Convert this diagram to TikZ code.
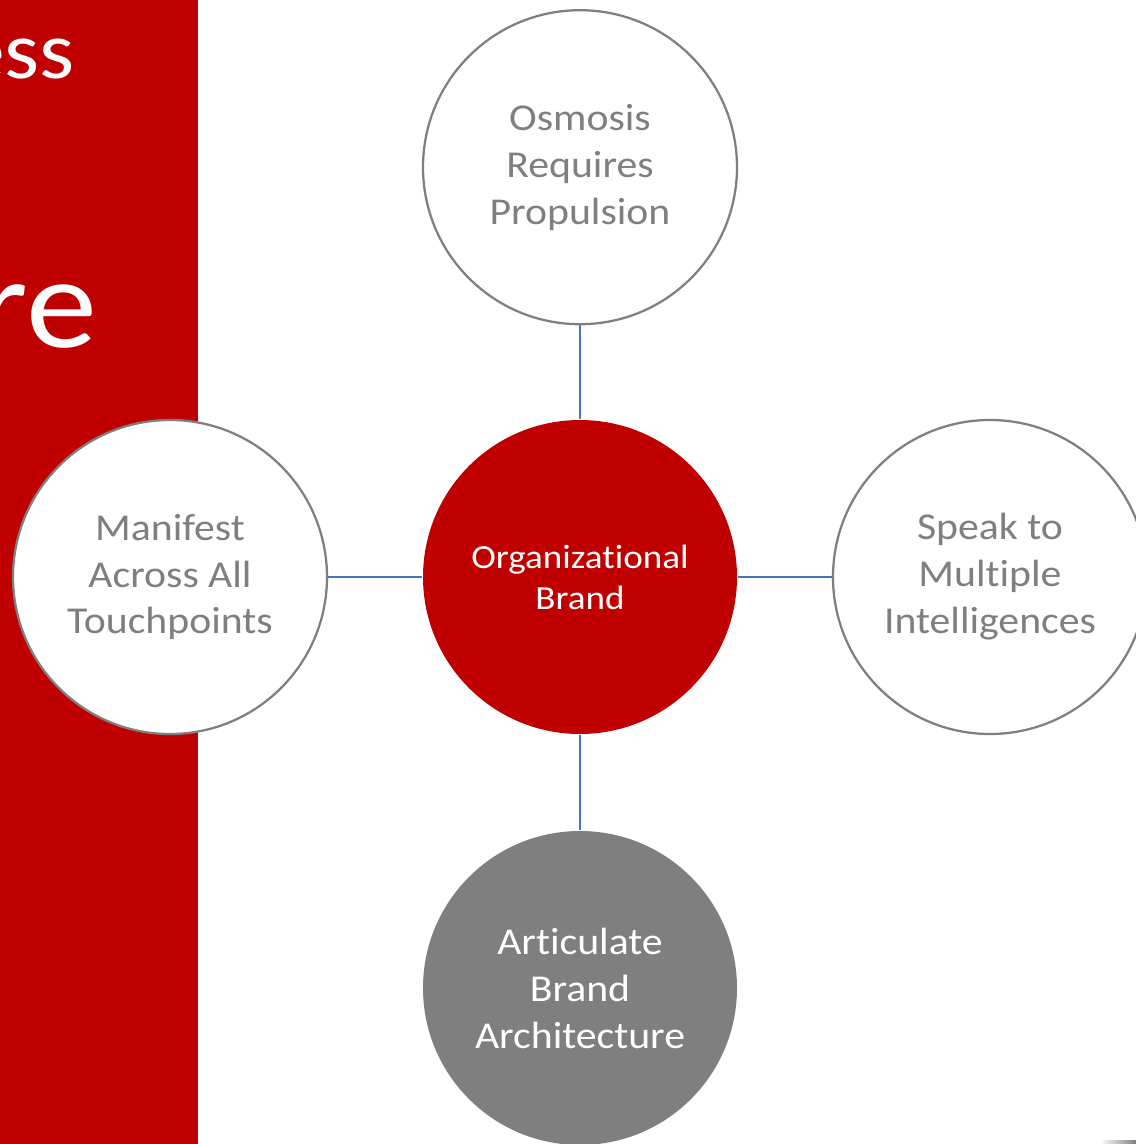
\documentclass[tikz,border=0pt]{standalone}
\usepackage{fontspec}
\setmainfont{Carlito}[FakeStretch=1.1, Ligatures=NoCommon]
\usetikzlibrary{positioning}

\begin{document}
\begin{tikzpicture}

    % Farben
    \definecolor{Brand_red}{RGB}{192,0,0}
    \definecolor{Brand_gray}{RGB}{127,127,127}
    \definecolor{Brand_line}{RGB}{68,114,196}

    \tikzset{
        bubble/.style={circle, draw=Brand_gray, line width=1.6pt, fill=white, text=Brand_gray, minimum size=7.85cm, align=center, font=\fontsize{27}{33.4}\selectfont},
        link/.style={draw=Brand_line, line width=1.9pt}
    }

    % Rahmen
    \clip (0,0) rectangle (28.4,-28.6);
    \fill[white] (0,0) rectangle (28.4,-28.6);

    % Roter Balken links
    \fill[Brand_red] (0,0) rectangle (4.95,-28.6);
    \node[anchor=base east, text=white, inner sep=0pt, font=\fontsize{58}{70}\selectfont] (titleA) at (1.88,-1.95) {ess};
    \node[anchor=base east, text=white, inner sep=0pt, font=\fontsize{92}{110}\selectfont] (titleB) at (2.43,-8.68) {re};

    % Mitte
    \node[bubble, draw=none, fill=Brand_red, text=white, font=\fontsize{24}{29.2}\selectfont] (brand) at (14.5,-14.425) {Organizational\\Brand};

    % Aeussere Kreise
    \node[bubble] (osmosis) at (14.5,-4.18) {Osmosis\\Requires\\Propulsion};
    \node[bubble] (manifest) at (4.25,-14.425) {Manifest\\Across All\\Touchpoints};
    \node[bubble] (speak) at (24.75,-14.425) {Speak to\\Multiple\\Intelligences};
    \node[bubble, draw=none, fill=Brand_gray, text=white] (architecture) at (14.5,-24.7) {Articulate\\Brand\\Architecture};

    % Verbindungen
    \draw[link] (osmosis.south) -- (brand.north);
    \draw[link] (manifest.east) -- (brand.west);
    \draw[link] (brand.east) -- (speak.west);
    \draw[link] (brand.south) -- (architecture.north);

    % Schatten unten rechts
    \shade[left color=white, right color=Brand_gray, draw=none] (27.5,-28.52) rectangle (28.4,-28.6);

\end{tikzpicture}
\end{document}
